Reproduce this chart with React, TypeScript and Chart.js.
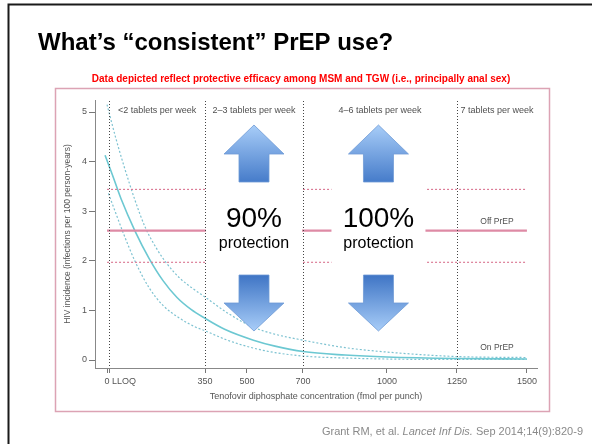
import React, { useEffect, useRef } from "react";
import { Chart, registerables } from "chart.js";

Chart.register(...registerables);

// ---- data ----
const xTicks = [0, 8, 350, 500, 700, 1000, 1250, 1500];
const yTicks = [0, 1, 2, 3, 4, 5];
const boundaries = [8, 350, 700, 1250];
const regionLabels = ["<2 tablets per week", "2–3 tablets per week", "4–6 tablets per week", "7 tablets per week"];

const concCenter = [-7, 20, 50, 100, 150, 200, 250, 300, 350, 420, 523, 600, 700, 850, 1000, 1250, 1500];
const hivCenter = [4.13, 3.72, 3.25, 2.6, 2.05, 1.6, 1.26, 1.02, 0.84, 0.62, 0.4, 0.28, 0.17, 0.1, 0.06, 0.03, 0.02];

const concUpper = [0, 30, 60, 100, 136, 180, 213, 260, 314, 350, 430, 523, 600, 700, 850, 1000, 1250, 1500];
const hivUpper = [5.15, 4.5, 3.92, 3.22, 2.68, 2.22, 1.95, 1.65, 1.41, 1.27, 0.95, 0.66, 0.52, 0.4, 0.25, 0.16, 0.07, 0.05];

const concLower = [5, 30, 58, 100, 150, 200, 260, 314, 350, 430, 523, 600, 700, 850, 1000, 1250, 1500];
const hivLower = [3.36, 2.98, 2.56, 1.99, 1.46, 1.1, 0.84, 0.67, 0.59, 0.4, 0.24, 0.15, 0.08, 0.04, 0.02, 0.01, 0.01];

const offPrepRange = [0, 1500];
const offPrepMean = 2.61;
const offPrepHigh = 3.44;
const offPrepLow = 1.97;

const protectionPct = ["90%", "100%"];
const protectionWord = "protection";

const TITLE = "What’s “consistent” PrEP use?";
const SUBTITLE = "Data depicted reflect protective efficacy among MSM and TGW (i.e., principally anal sex)";
const CITE_A = "Grant RM, et al. ";
const CITE_B = "Lancet Inf Dis.";
const CITE_C = " Sep 2014;14(9):820-9";
const Y_TITLE = "HIV incidence (infections per 100 person-years)";
const X_TITLE = "Tenofovir diphosphate concentration (fmol per punch)";

const FONT = "'Liberation Sans', Arial, sans-serif";

const pts = (xs: number[], ys: number[]) => xs.map((x, i) => ({ x, y: ys[i] }));

function drawArrow(ctx: CanvasRenderingContext2D, cx: number, up: boolean, yA: number, yB: number, yC: number) {
  const hw = 30, sw = 15;
  ctx.beginPath();
  if (up) {
    ctx.moveTo(cx, yA);
    ctx.lineTo(cx + hw, yB);
    ctx.lineTo(cx + sw, yB);
    ctx.lineTo(cx + sw, yC);
    ctx.lineTo(cx - sw, yC);
    ctx.lineTo(cx - sw, yB);
    ctx.lineTo(cx - hw, yB);
  } else {
    ctx.moveTo(cx - sw, yA);
    ctx.lineTo(cx + sw, yA);
    ctx.lineTo(cx + sw, yB);
    ctx.lineTo(cx + hw, yB);
    ctx.lineTo(cx, yC);
    ctx.lineTo(cx - hw, yB);
    ctx.lineTo(cx - sw, yB);
  }
  ctx.closePath();
  const g = ctx.createLinearGradient(0, yA, 0, yC);
  if (up) {
    g.addColorStop(0, "#a8cdf8");
    g.addColorStop(1, "#467cca");
  } else {
    g.addColorStop(0, "#3f75c5");
    g.addColorStop(1, "#a8cdf8");
  }
  ctx.fillStyle = g;
  ctx.fill();
  ctx.strokeStyle = "#6f9bd6";
  ctx.lineWidth = 0.8;
  ctx.stroke();
}

const slidePlugin = {
  id: "slideDecor",
  beforeDraw(chart: any) {
    const ctx: CanvasRenderingContext2D = chart.ctx;
    ctx.save();
    ctx.fillStyle = "#ffffff";
    ctx.fillRect(0, 0, chart.width, chart.height);
    ctx.strokeStyle = "#1a1a1a";
    ctx.lineWidth = 2;
    ctx.beginPath();
    ctx.moveTo(8.5, 444);
    ctx.lineTo(8.5, 4.5);
    ctx.lineTo(600, 4.5);
    ctx.stroke();
    ctx.fillStyle = "#000";
    ctx.font = `bold 24px ${FONT}`;
    ctx.textAlign = "left";
    ctx.textBaseline = "middle";
    ctx.fillText(TITLE, 38, 43);
    ctx.fillStyle = "#ff0000";
    ctx.font = `bold 10px ${FONT}`;
    ctx.textAlign = "center";
    ctx.fillText(SUBTITLE, 301, 79);
    ctx.strokeStyle = "#dca3b4";
    ctx.lineWidth = 1.5;
    ctx.strokeRect(55.5, 88.5, 494, 323);
    ctx.fillStyle = "#8a8a8a";
    ctx.textAlign = "left";
    const fN = `11px ${FONT}`;
    const fI = `italic 11px ${FONT}`;
    ctx.font = fN;
    const wA = ctx.measureText(CITE_A).width;
    const wC = ctx.measureText(CITE_C).width;
    ctx.font = fI;
    const wB = ctx.measureText(CITE_B).width;
    let x = 583 - (wA + wB + wC);
    ctx.font = fN;
    ctx.fillText(CITE_A, x, 432);
    x += wA;
    ctx.font = fI;
    ctx.fillText(CITE_B, x, 432);
    x += wB;
    ctx.font = fN;
    ctx.fillText(CITE_C, x, 432);
    ctx.restore();
  },
  afterDatasetsDraw(chart: any) {
    const ctx: CanvasRenderingContext2D = chart.ctx;
    const xs = chart.scales.x;
    const ys = chart.scales.y;
    const area = chart.chartArea;
    const bx = boundaries.map((b) => xs.getPixelForValue(b));
    const c90 = (bx[1] + bx[2]) / 2;
    const c100 = (bx[2] + bx[3]) / 2 - 1.5;
    ctx.save();
    ctx.fillStyle = "#ffffff";
    ctx.fillRect(bx[1] + 1, 183, bx[2] - bx[1] - 2, 88);
    ctx.fillRect(c100 - 47, 183, 94, 88);
    ctx.strokeStyle = "#444";
    ctx.lineWidth = 1;
    ctx.setLineDash([1, 2]);
    bx.forEach((px) => {
      ctx.beginPath();
      ctx.moveTo(Math.round(px) + 0.5, area.top + 1);
      ctx.lineTo(Math.round(px) + 0.5, area.bottom);
      ctx.stroke();
    });
    ctx.setLineDash([]);
    ctx.fillStyle = "#505050";
    ctx.font = `9px ${FONT}`;
    ctx.textAlign = "center";
    ctx.textBaseline = "middle";
    const edges = [...bx, area.right];
    regionLabels.forEach((t, i) => {
      ctx.fillText(t, (edges[i] + edges[i + 1]) / 2, area.top + 11);
    });
    const lastMid = (bx[3] + area.right) / 2;
    ctx.font = `8.5px ${FONT}`;
    ctx.fillText("Off PrEP", lastMid, ys.getPixelForValue(offPrepMean) - 9);
    ctx.fillText("On PrEP", lastMid, ys.getPixelForValue(0) - 12);
    ctx.font = `9px ${FONT}`;
    ctx.textAlign = "left";
    ctx.fillStyle = "#555";
    ctx.fillText("LLOQ", xs.getPixelForValue(0) + 5, 382);
    ctx.fillStyle = "#000";
    ctx.textAlign = "center";
    ctx.font = `28px ${FONT}`;
    ctx.fillText(protectionPct[0], c90, 219);
    ctx.fillText(protectionPct[1], c100, 219);
    ctx.font = `16px ${FONT}`;
    ctx.fillText(protectionWord, c90, 244);
    ctx.fillText(protectionWord, c100, 244);
    drawArrow(ctx, c90, true, 125, 154, 182);
    drawArrow(ctx, c100, true, 125, 154, 182);
    drawArrow(ctx, c90, false, 275, 303, 331);
    drawArrow(ctx, c100, false, 275, 303, 331);
    ctx.restore();
  },
};

export default function App() {
  const ref = useRef<HTMLCanvasElement | null>(null);
  useEffect(() => {
    if (!ref.current) return;
    const pink = "#de8aa5";
    const pinkDash = "#d9738f";
    const chart = new Chart(ref.current, {
      type: "line",
      data: {
        datasets: [
          {
            label: "Off PrEP",
            data: pts(offPrepRange, [offPrepMean, offPrepMean]),
            borderColor: pink,
            borderWidth: 2.2,
            pointRadius: 0,
          },
          {
            label: "Off PrEP upper",
            data: pts(offPrepRange, [offPrepHigh, offPrepHigh]),
            borderColor: pinkDash,
            borderWidth: 1.1,
            borderDash: [2, 2],
            pointRadius: 0,
          },
          {
            label: "Off PrEP lower",
            data: pts(offPrepRange, [offPrepLow, offPrepLow]),
            borderColor: pinkDash,
            borderWidth: 1.1,
            borderDash: [2, 2],
            pointRadius: 0,
          },
          {
            label: "On PrEP",
            data: pts(concCenter, hivCenter),
            borderColor: "#6cc8d2",
            borderWidth: 1.6,
            pointRadius: 0,
            cubicInterpolationMode: "monotone",
          },
          {
            label: "Upper CI",
            data: pts(concUpper, hivUpper),
            borderColor: "#7dc2d1",
            borderWidth: 1.2,
            borderDash: [2, 2],
            pointRadius: 0,
            cubicInterpolationMode: "monotone",
          },
          {
            label: "Lower CI",
            data: pts(concLower, hivLower),
            borderColor: "#7dc2d1",
            borderWidth: 1.2,
            borderDash: [2, 2],
            pointRadius: 0,
            cubicInterpolationMode: "monotone",
          },
        ],
      },
      options: {
        responsive: false,
        animation: false,
        devicePixelRatio: 1,
        layout: { padding: { left: 60, right: 55, top: 100, bottom: 40 } },
        plugins: { legend: { display: false }, tooltip: { enabled: false }, title: { display: false } },
        elements: { line: { fill: false } },
        scales: {
          x: {
            type: "linear",
            min: -43,
            max: 1536,
            afterFit: (s: any) => {
              s.height = 36;
            },
            afterBuildTicks: (s: any) => {
              s.ticks = xTicks.map((v) => ({ value: v }));
            },
            ticks: {
              autoSkip: false,
              maxRotation: 0,
              padding: 3,
              color: "#555",
              font: { size: 9, family: FONT },
              callback: (v: any) => (v === 8 ? "" : String(v)),
            },
            grid: { display: true, drawOnChartArea: false, drawTicks: true, tickLength: 5, color: "#777" },
            border: { display: true, color: "#888", width: 1 },
            title: {
              display: true,
              text: X_TITLE,
              color: "#555",
              font: { size: 9, family: FONT },
              padding: { top: 0, bottom: 2 },
            },
          },
          y: {
            type: "linear",
            min: -0.161,
            max: 5.242,
            afterFit: (s: any) => {
              s.width = 35;
            },
            afterBuildTicks: (s: any) => {
              s.ticks = yTicks.map((v) => ({ value: v }));
            },
            ticks: {
              padding: 2,
              color: "#555",
              font: { size: 9, family: FONT },
              callback: (v: any) => String(v),
            },
            grid: { display: true, drawOnChartArea: false, drawTicks: true, tickLength: 6, color: "#777" },
            border: { display: true, color: "#888", width: 1 },
            title: {
              display: true,
              text: Y_TITLE,
              color: "#555",
              font: { size: 8.5, family: FONT },
              padding: { top: 3, bottom: 0 },
            },
          },
        },
      },
      plugins: [slidePlugin],
    } as any);
    return () => chart.destroy();
  }, []);
  return (
    <div style={{ position: "absolute", left: 0, top: 0, width: 592, height: 444, background: "#fff" }}>
      <canvas ref={ref} width={592} height={444} style={{ display: "block", width: 592, height: 444 }} />
    </div>
  );
}
